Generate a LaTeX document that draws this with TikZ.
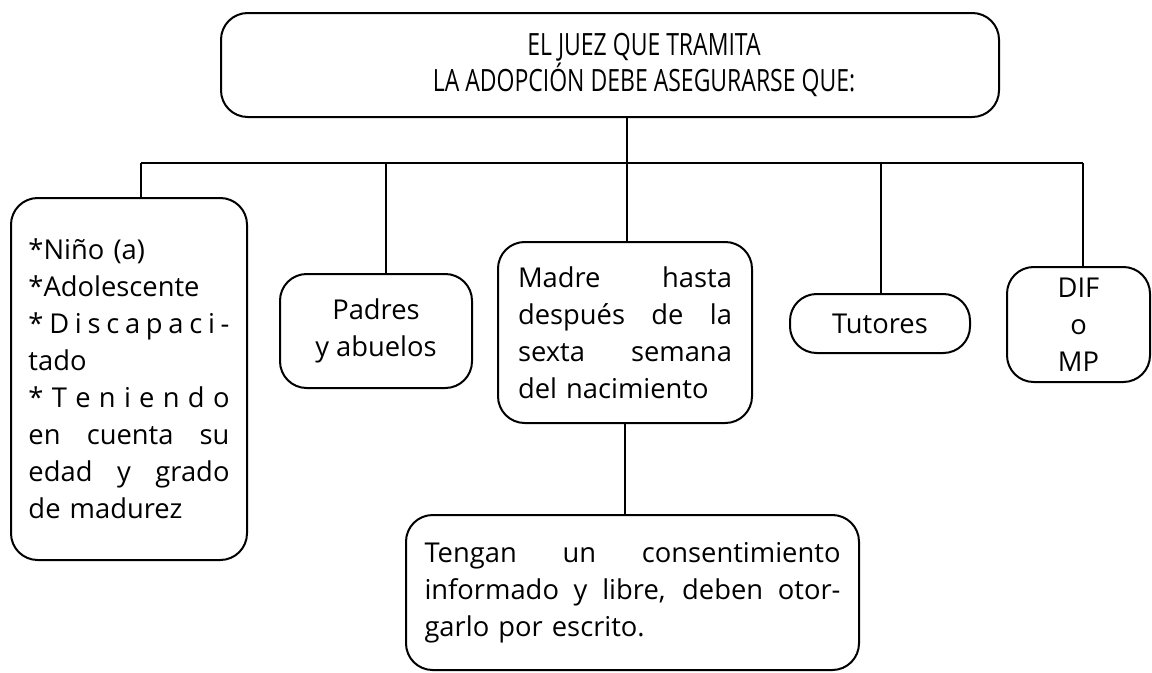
\documentclass[tikz,border=0pt]{standalone}
\usepackage{fontspec}
\setmainfont{Open Sans}
\newfontfamily\narrowsans[FakeStretch=0.75]{Open Sans}
\usetikzlibrary{positioning}
\newcommand{\jline}[2]{\makebox[#1][s]{\spaceskip=0pt\xspaceskip=0pt #2}}

\begin{document}
\begin{tikzpicture}[
    x=0.75pt, y=-0.75pt,
    box/.style={draw, line width=1.5pt, rounded corners=20pt, inner sep=0pt, font=\fontsize{20.5}{27.75}\selectfont},
    link/.style={line width=1.5pt}
]
    \useasboundingbox (0,0) rectangle (1152,672);

    \node[box, minimum width=583.5pt, minimum height=78pt, align=center, font=\narrowsans\fontsize{23}{24}\selectfont] (juez) at (610,65) {\hspace*{51pt}EL JUEZ QUE TRAMITA\\\hspace*{51pt}LA ADOPCIÓN DEBE ASEGURARSE QUE:};

    \node[box, minimum width=177pt, minimum height=271.5pt, text width=150.75pt, align=left] (nino) at (129,379) {{*}Niño (a)\\
        {*}Adolescente\\
        \jline{150.75pt}{* D i s c a p a c i -}\\
        tado\\
        \jline{150.75pt}{* T e n i e n d o}\\
        \jline{150.75pt}{en cuenta su}\\
        \jline{150.75pt}{edad y grado}\\
        de madurez};
    \node[box, minimum width=144pt, minimum height=85.5pt, align=center] (padres) at (376,331) {Padres\\y abuelos};
    \node[box, minimum width=190.5pt, minimum height=135.75pt, text width=160.5pt, align=left] (madre) at (625,332.5) {\jline{160.5pt}{Madre hasta}\\
        \jline{160.5pt}{después de la}\\
        \jline{160.5pt}{sexta semana}\\
        del nacimiento};
    \node[box, minimum width=135pt, minimum height=44.25pt, align=center] (tutores) at (880,323.5) {Tutores};
    \node[box, minimum width=107.25pt, minimum height=86.25pt, align=center] (dif) at (1078.5,324.5) {DIF\\o\\MP};
    \node[box, minimum width=339.75pt, minimum height=116.25pt, text width=312pt, align=left] (consent) at (632.5,592.5) {\jline{312pt}{Tengan un consentimiento}\\
        \jline{312pt}{informado y libre, deben otor-}\\
        garlo por escrito.};

    % bus under the title
    \coordinate (busL) at (141,163);
    \coordinate (busR) at (1083,163);
    \draw[link] (busL) -- (busR);
    \draw[link] (juez.south -| 627,0) -- (627,163);
    \foreach \n/\x in {nino/141, padres/386, madre/627, tutores/881, dif/1083} {
        \coordinate (top-\n) at (\x,163);
        \draw[link] (top-\n) -- (top-\n |- \n.north);
    }
    \draw[link] (madre.south) -- (madre.south |- consent.north);
\end{tikzpicture}
\end{document}
